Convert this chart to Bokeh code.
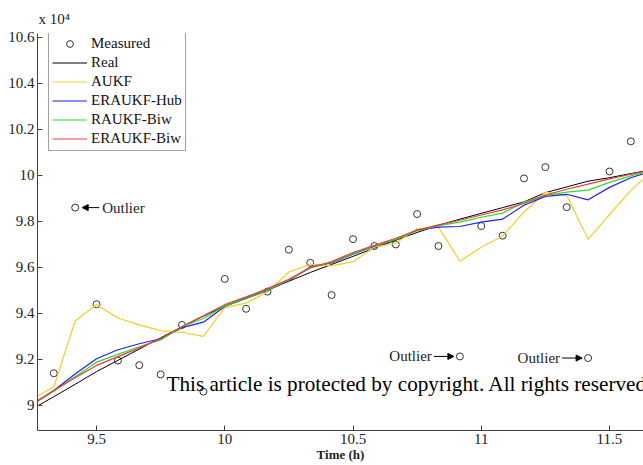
from bokeh.plotting import figure
from bokeh.models import (Range1d, FixedTicker, CustomJSTickFormatter, Label, Arrow,
                          NormalHead, Legend, LegendItem)
from bokeh.embed import file_html
from bokeh.resources import INLINE

FONT = "Liberation Serif"

# ---- data (values in units of 10^4) ----
times = [9.25, 9.3333, 9.4167, 9.5, 9.5833, 9.6667, 9.75, 9.8333, 9.9167, 10.0,
         10.0833, 10.1667, 10.25, 10.3333, 10.4167, 10.5, 10.5833, 10.6667, 10.75, 10.8333,
         10.9167, 11.0, 11.0833, 11.1667, 11.25, 11.3333, 11.4167, 11.5, 11.5833, 11.6667]

real = [8.985, 9.038, 9.092, 9.147, 9.196, 9.245, 9.294, 9.342, 9.388, 9.432,
        9.468, 9.503, 9.540, 9.578, 9.613, 9.648, 9.684, 9.718, 9.752, 9.783,
        9.810, 9.835, 9.860, 9.885, 9.925, 9.950, 9.975, 9.990, 10.008, 10.025]

aukf = [9.030, 9.080, 9.367, 9.439, 9.380, 9.350, 9.325, 9.318, 9.300, 9.425,
        9.445, 9.493, 9.580, 9.614, 9.607, 9.625, 9.688, 9.705, 9.768, 9.775,
        9.627, 9.688, 9.737, 9.840, 9.927, 9.913, 9.722, 9.830, 9.935, 10.020]

eraukf_hub = [9.005, 9.065, 9.137, 9.203, 9.242, 9.268, 9.290, 9.338, 9.362, 9.430,
              9.465, 9.500, 9.543, 9.602, 9.620, 9.658, 9.692, 9.720, 9.762, 9.775,
              9.778, 9.797, 9.810, 9.870, 9.909, 9.918, 9.894, 9.948, 9.990, 10.020]

raukf_biw = [9.005, 9.062, 9.125, 9.188, 9.222, 9.255, 9.285, 9.342, 9.378, 9.432,
             9.466, 9.502, 9.545, 9.600, 9.622, 9.660, 9.694, 9.722, 9.760, 9.782,
             9.797, 9.818, 9.836, 9.884, 9.913, 9.927, 9.936, 9.970, 9.998, 10.022]

eraukf_biw = [9.005, 9.065, 9.120, 9.174, 9.212, 9.250, 9.290, 9.343, 9.390, 9.438,
              9.472, 9.508, 9.548, 9.598, 9.625, 9.665, 9.696, 9.727, 9.762, 9.785,
              9.805, 9.828, 9.850, 9.878, 9.915, 9.940, 9.962, 9.985, 10.005, 10.025]

meas_t = times[1:29]
measured = [9.140, 9.860, 9.440, 9.195, 9.175, 9.135, 9.350, 9.060, 9.550, 9.420,
            9.495, 9.677, 9.620, 9.480, 9.723, 9.693, 9.700, 9.832, 9.693, 9.213,
            9.780, 9.738, 9.987, 10.036, 9.862, 9.206, 10.017, 10.148]

outlier_idx = [1, 19, 25]   # indices into measured

x_ticks = [9.5, 10, 10.5, 11, 11.5]
y_ticks = [9, 9.2, 9.4, 9.6, 9.8, 10, 10.2, 10.4, 10.6]

# ---- figure ----
p = figure(width=643, height=465, output_backend="svg", toolbar_location=None,
           x_range=Range1d(9.2698, 11.6327), y_range=Range1d(8.891, 10.617),
           min_border_left=37, min_border_right=0, min_border_top=33,
           min_border_bottom=35, background_fill_color="white",
           title="x 10\u2074")
p.grid.visible = False
p.outline_line_color = None

p.title.text_font = FONT
p.title.text_font_size = "15px"
p.title.text_font_style = "normal"
p.title.text_color = "#222222"
p.title.align = "left"
p.title.offset = 1
p.title.standoff = 13

fmt = "return Number(tick.toFixed(2)).toString();"
for ax, ticks in ((p.xaxis, x_ticks), (p.yaxis, y_ticks)):
    ax.ticker = FixedTicker(ticks=ticks)
    ax.formatter = CustomJSTickFormatter(code=fmt)
    ax.major_tick_in = 5
    ax.major_tick_out = 0
    ax.minor_tick_line_color = None
    ax.axis_line_color = "#404040"
    ax.major_tick_line_color = "#404040"
    ax.major_label_text_font = FONT
    ax.major_label_text_font_size = "15px"
    ax.major_label_text_color = "#222222"
    ax.major_label_standoff = 3

p.xaxis.axis_label = "Time (h)"
p.xaxis.axis_label_text_font = FONT
p.xaxis.axis_label_text_font_style = "bold"
p.xaxis.axis_label_text_font_size = "13px"
p.xaxis.axis_label_text_color = "#222222"
p.xaxis.axis_label_standoff = 0

r_meas = p.scatter(meas_t, measured, marker="circle", size=7, fill_color=None,
                   line_color="#333333", line_width=1)
r_real = p.line(times, real, line_color="black", line_width=1)
r_aukf = p.line(times, aukf, line_color="#F2CE2A", line_width=1.2)
r_hub = p.line(times, eraukf_hub, line_color="#1F1FF5", line_width=1.2)
r_rbiw = p.line(times, raukf_biw, line_color="#2ADB2A", line_width=1.2)
r_ebiw = p.line(times, eraukf_biw, line_color="#EE3B3B", line_width=1.2)

legend = Legend(items=[
    LegendItem(label="Measured", renderers=[r_meas]),
    LegendItem(label="Real", renderers=[r_real]),
    LegendItem(label="AUKF", renderers=[r_aukf]),
    LegendItem(label="ERAUKF-Hub", renderers=[r_hub]),
    LegendItem(label="RAUKF-Biw", renderers=[r_rbiw]),
    LegendItem(label="ERAUKF-Biw", renderers=[r_ebiw]),
], location=(11, 279))
legend.label_text_font = FONT
legend.label_text_font_size = "15px"
legend.label_text_color = "#111111"
legend.glyph_width = 35
legend.glyph_height = 17
legend.label_height = 17
legend.spacing = 2
legend.padding = 3
legend.margin = 0
legend.label_standoff = 4
legend.border_line_color = "#444444"
legend.border_line_width = 1
legend.background_fill_alpha = 1
p.add_layout(legend)

# outlier annotations
dx_px = 1 / 256.3
o1 = outlier_idx[0]
t1, v1 = meas_t[o1], measured[o1]
p.add_layout(Arrow(end=NormalHead(size=6, fill_color="black", line_color="black"),
                   x_start=t1 + 24 * dx_px, y_start=v1, x_end=t1 + 7 * dx_px, y_end=v1,
                   line_width=1, line_color="black"))
p.add_layout(Label(x=t1 + 27 * dx_px, y=v1, text="Outlier", text_font=FONT,
                   text_font_size="15px", text_baseline="middle", text_color="#222222"))
for oi in outlier_idx[1:]:
    t, v = meas_t[oi], measured[oi]
    p.add_layout(Arrow(end=NormalHead(size=6, fill_color="black", line_color="black"),
                       x_start=t - 26 * dx_px, y_start=v, x_end=t - 6 * dx_px, y_end=v,
                       line_width=1, line_color="black"))
    p.add_layout(Label(x=t - 28 * dx_px, y=v, text="Outlier", text_font=FONT,
                       text_font_size="15px", text_baseline="middle", text_align="right",
                       text_color="#222222"))

# watermark
p.add_layout(Label(x=129, y=47, x_units="screen", y_units="screen",
                   text="This article is protected by copyright. All rights reserved",
                   text_font=FONT, text_font_size="21.2px", text_baseline="middle",
                   text_color="black"))

open("out.html", "w").write(file_html(p, INLINE))
